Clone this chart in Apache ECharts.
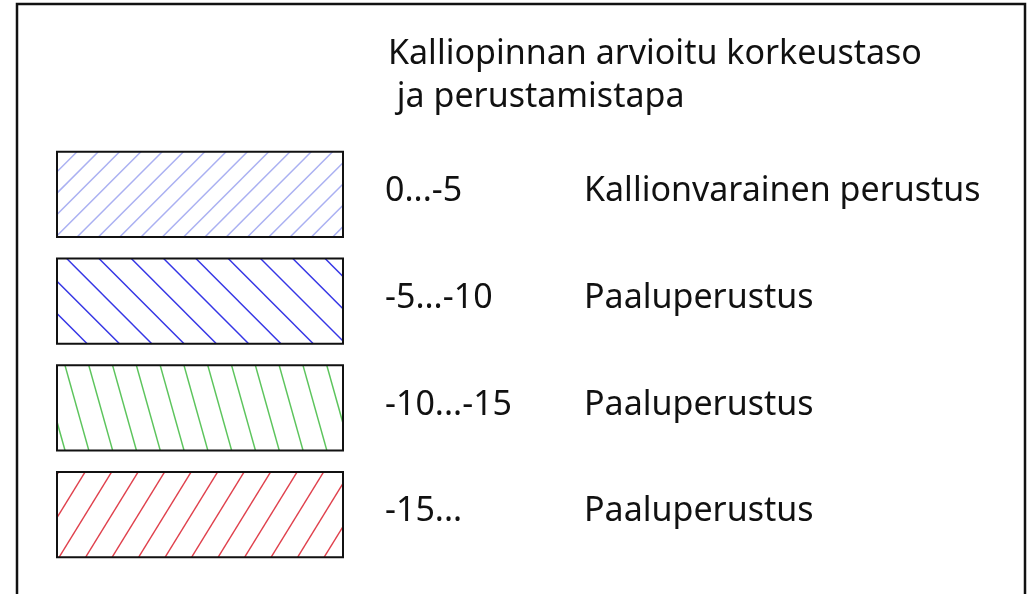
<!DOCTYPE html>
<html>
<head>
<meta charset="utf-8">
<script src="https://cdn.jsdelivr.net/npm/echarts@6/dist/echarts.min.js"></script>
<style>
  html, body { margin: 0; padding: 0; background: #ffffff; }
  #main { width: 1035px; height: 594px; }
</style>
</head>
<body>
<div id="main"></div>
<script>
// ---- data ----
var titleLines = ['Kalliopinnan arvioitu korkeustaso', ' ja perustamistapa'];
var levelRanges = ['0...-5', '-5...-10', '-10...-15', '-15...'];
var foundationMethods = ['Kallionvarainen perustus', 'Paaluperustus', 'Paaluperustus', 'Paaluperustus'];

// ---- hatch styles (one per row) ----
// slope: horizontal shift per pixel downwards; spacing: horizontal distance between lines
var hatchStyles = [
  { color: '#aab0f2', width: 1.5, slope: -1.0,  spacing: 21.3, phase: 20 },
  { color: '#3535e6', width: 1.5, slope: 1.0,   spacing: 32.3, phase: 9.7 },
  { color: '#5cc45c', width: 1.5, slope: 0.28,  spacing: 23.8, phase: 8 },
  { color: '#e0404c', width: 1.4, slope: -0.615, spacing: 26.5, phase: 28 }
];

var FONT = '"Noto Sans", "Open Sans", sans-serif';
var FS = 34;
var chart = echarts.init(document.getElementById('main'));

function hatchLines(L, T, R, B, st) {
  var out = [];
  var H = B - T;
  var s = st.slope;
  var ext = Math.abs(s) * H + st.spacing;
  var start = L + st.phase - Math.ceil(ext / st.spacing + 1) * st.spacing;
  for (var xt = start; xt <= R + ext; xt += st.spacing) {
    var ylo, yhi;
    if (s === 0) {
      if (xt < L || xt > R) continue;
      ylo = T; yhi = B;
    } else {
      var y1 = T + (L - xt) / s, y2 = T + (R - xt) / s;
      ylo = Math.max(T, Math.min(y1, y2));
      yhi = Math.min(B, Math.max(y1, y2));
    }
    if (yhi - ylo < 0.5) continue;
    out.push({
      type: 'line',
      shape: { x1: xt + s * (ylo - T), y1: ylo, x2: xt + s * (yhi - T), y2: yhi },
      style: { stroke: st.color, lineWidth: st.width }
    });
  }
  return out;
}

var option = {
  backgroundColor: '#ffffff',
  animation: false,
  title: {
    text: titleLines.join('\n'),
    left: 383,
    top: 28,
    textStyle: { fontFamily: FONT, fontSize: FS, fontWeight: 'normal', color: '#111111', lineHeight: 43 }
  },
  graphic: [{
    type: 'rect',
    z: -10,
    shape: { x: 17, y: 4, width: 1008, height: 640 },
    style: { fill: 'none', stroke: '#111111', lineWidth: 2.5 }
  }],
  grid: { left: 57, right: 692, top: 141, bottom: 26 },
  xAxis: { type: 'value', min: 0, max: 1, show: false },
  yAxis: { type: 'category', data: levelRanges, inverse: true, show: false },
  series: [{
    type: 'custom',
    data: levelRanges.map(function (r, i) { return [0, i]; }),
    encode: { x: 0, y: 1 },
    renderItem: function (params, api) {
      var i = api.value(1);
      var p0 = api.coord([0, i]);
      var p1 = api.coord([1, i]);
      var band = api.size([0, 1])[1];
      var h = band * 0.797;
      var L = p0[0], R = p1[0], T = p0[1] - h / 2, B = p0[1] + h / 2;
      var children = hatchLines(L, T, R, B, hatchStyles[i]);
      children.push({
        type: 'rect',
        shape: { x: L, y: T, width: R - L, height: h },
        style: { fill: 'none', stroke: '#111111', lineWidth: 2 }
      });
      children.push({
        type: 'text',
        x: L + 328, y: p0[1] - 3,
        style: { text: levelRanges[i], fill: '#111111', font: FS + 'px ' + FONT, align: 'left', verticalAlign: 'middle', textAlign: 'left', textVerticalAlign: 'middle' }
      });
      children.push({
        type: 'text',
        x: L + 527, y: p0[1] - 3,
        style: { text: foundationMethods[i], fill: '#111111', font: FS + 'px ' + FONT, align: 'left', verticalAlign: 'middle', textAlign: 'left', textVerticalAlign: 'middle' }
      });
      return { type: 'group', children: children };
    }
  }]
};
chart.setOption(option);
</script>
</body>
</html>
